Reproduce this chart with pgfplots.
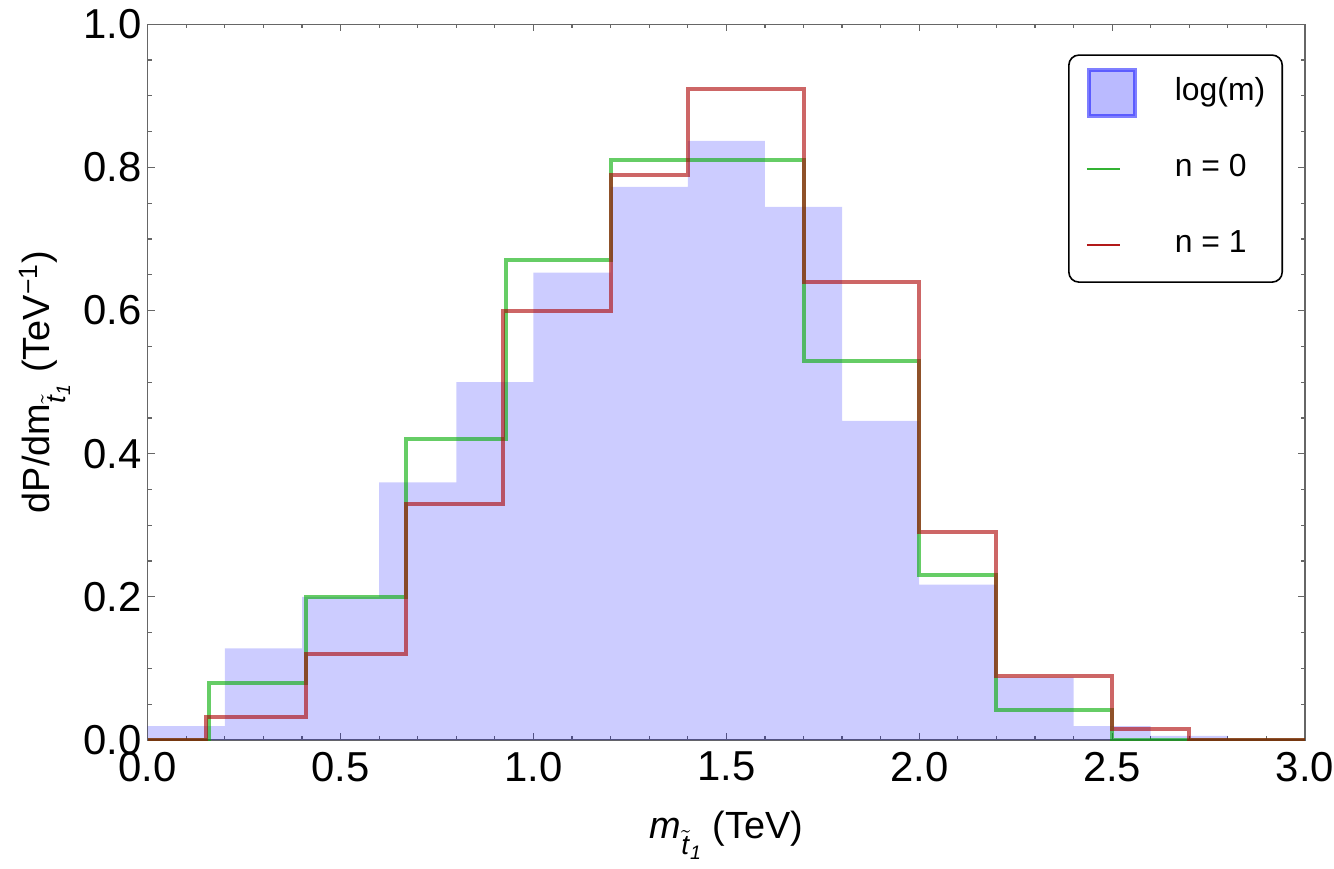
\documentclass[border=0pt]{standalone}
\usepackage{fontspec}
\setmainfont{Liberation Sans}
\usepackage{amsmath}
\usepackage{pgfplots}
\pgfplotsset{compat=1.18}
\definecolor{gline}{rgb}{0,0.67,0}
\definecolor{rline}{rgb}{0.67,0,0}
\definecolor{glegend}{rgb}{0.2,0.7,0.2}
\definecolor{rlegend}{rgb}{0.7,0.1,0.1}
\definecolor{axgray}{rgb}{0.4,0.4,0.4}
\newcommand{\stsub}{\raisebox{-8bp}{\fontsize{14}{14}\selectfont$\tilde{\text{\textit{t}}}_{\text{\textit{1}}}$}}
\begin{document}
\begin{tikzpicture}
\begin{axis}[name=ax, scale only axis, width=578.65bp, height=357.85bp,
  xmin=0, xmax=3, ymin=0, ymax=1,
  xtick={0,0.5,1,1.5,2,2.5,3}, ytick={0,0.2,0.4,0.6,0.8,1},
  minor x tick num=4, minor y tick num=3,
  tick align=inside, major tick length=3.5bp, minor tick length=2bp,
  axis line style={draw=axgray, line width=0.6bp},
  tick style={draw=axgray, line width=0.6bp},
  ticklabel style={font=\fontsize{21}{21}\selectfont, inner sep=0pt},
  xticklabel style={yshift=-5.8bp},
  yticklabel style={xshift=-3bp},
  /pgf/number format/.cd, fixed, fixed zerofill, precision=1, assume math mode=true,
  /pgfplots/.cd,
  label style={font=\fontsize{19}{19}\selectfont},
  xlabel={\textit{m}\stsub\ (TeV)},
  ylabel={dP/dm\stsub\ (TeV$^{\text{−1}}$)},
  xlabel style={at={(axis description cs:0.5,-0.1383)}, anchor=base},
  ylabel style={at={(axis description cs:-0.0845,0.5)}, anchor=base},
  legend cell align=left,
  legend style={at={(rel axis cs:1,1)}, anchor=north east, xshift=-11bp, yshift=-15bp,
    draw=black, line width=0.8bp, rounded corners=5bp,
    inner xsep=8.5bp, inner ysep=5.25bp,
    font=\fontsize{16}{16}\selectfont,
    /tikz/row sep=11bp, /tikz/column sep=19bp,
    nodes={inner sep=0pt, minimum height=27bp, text height=11.5bp, text depth=3.5bp}},
]
\addplot[const plot, fill=blue, fill opacity=0.2, draw=none,
  legend image code/.code={\draw[sharp corners, draw=blue, draw opacity=0.5, fill=blue, fill opacity=0.27, line width=2bp] (1bp,-11.5bp) rectangle (24bp,11.5bp);}]
  coordinates {(0,0.0195) (0.2,0.128) (0.4,0.2) (0.6,0.36) (0.8,0.50) (1.0,0.653) (1.2,0.773) (1.4,0.837) (1.6,0.745) (1.8,0.446) (2.0,0.217) (2.2,0.087) (2.4,0.0195) (2.6,0.0056) (2.8,0.001) (3.0,0.001)} \closedcycle;
\addlegendentry{log(m)}
\addplot[const plot, draw=gline, draw opacity=0.6, line width=2bp, no marks,
  legend image code/.code={\draw[draw=glegend, draw opacity=1, line width=1bp] (0bp,0bp) -- (16.5bp,0bp);}]
  coordinates {(0,0) (0.16,0.08) (0.41,0.2) (0.67,0.42) (0.93,0.67) (1.2,0.81) (1.7,0.53) (2.0,0.23) (2.2,0.042) (2.5,0) (3.0,0)};
\addlegendentry{n = 0}
\addplot[const plot, draw=rline, draw opacity=0.6, line width=2bp, no marks,
  legend image code/.code={\draw[draw=rlegend, draw opacity=1, line width=1bp] (0bp,0bp) -- (16.5bp,0bp);}]
  coordinates {(0,0) (0.15,0.032) (0.41,0.12) (0.67,0.33) (0.92,0.60) (1.2,0.79) (1.4,0.91) (1.7,0.64) (2.0,0.29) (2.2,0.09) (2.5,0.015) (2.7,0) (3.0,0)};
\addlegendentry{n = 1}
\end{axis}
\pgfresetboundingbox
\path ([xshift=-73.85bp,yshift=-64.5bp]ax.south west) rectangle ([xshift=14.5bp,yshift=12.15bp]ax.north east);
\end{tikzpicture}
\end{document}
